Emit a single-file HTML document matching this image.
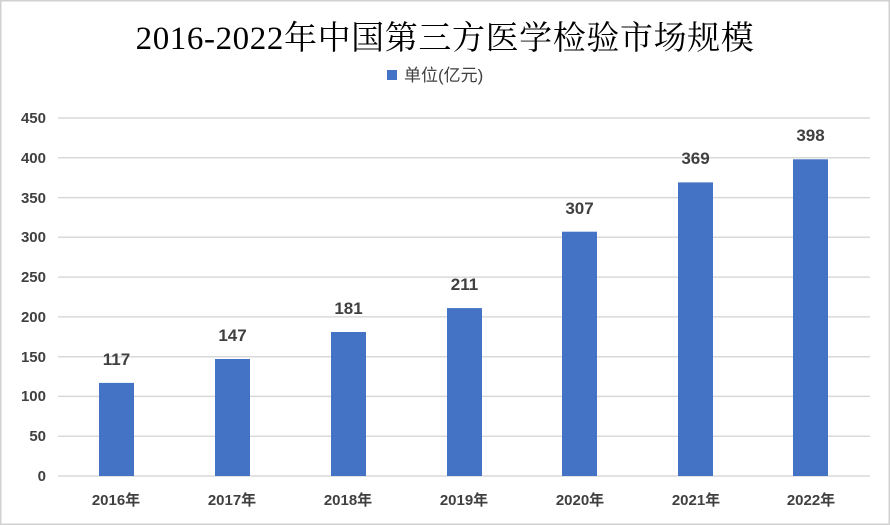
<!DOCTYPE html>
<html><head><meta charset="utf-8"><style>
body{margin:0;background:#fff}
svg{display:block}
</style></head><body>
<svg width="890" height="525" xmlns="http://www.w3.org/2000/svg">
<rect x="0.5" y="0.5" width="889" height="524" fill="#fff" stroke="#d0d0d0" stroke-width="2"/>
<text x="445" y="49" text-anchor="middle" font-family="Liberation Serif, Noto Serif CJK SC, serif" font-size="33" letter-spacing="0.6" fill="#000">2016-2022年中国第三方医学检验市场规模</text>
<rect x="387" y="70" width="10" height="10" fill="#4472C4"/>
<text x="404" y="81" font-family="Liberation Sans, Noto Sans CJK SC, sans-serif" font-size="17" fill="#404040">单位(亿元)</text>
<g stroke="#d9d9d9" stroke-width="1.5">
<line x1="58" x2="870" y1="118" y2="118"/>
<line x1="58" x2="870" y1="157.8" y2="157.8"/>
<line x1="58" x2="870" y1="197.6" y2="197.6"/>
<line x1="58" x2="870" y1="237.3" y2="237.3"/>
<line x1="58" x2="870" y1="277.1" y2="277.1"/>
<line x1="58" x2="870" y1="316.9" y2="316.9"/>
<line x1="58" x2="870" y1="356.7" y2="356.7"/>
<line x1="58" x2="870" y1="396.4" y2="396.4"/>
<line x1="58" x2="870" y1="436.2" y2="436.2"/>
<line x1="58" x2="870" y1="476" y2="476"/>
</g>
<g font-family="Liberation Sans, sans-serif" font-size="15" font-weight="bold" fill="#404040" text-anchor="end">
<text x="46" y="123">450</text><text x="46" y="163">400</text><text x="46" y="203">350</text>
<text x="46" y="242">300</text><text x="46" y="282">250</text><text x="46" y="322">200</text>
<text x="46" y="362">150</text><text x="46" y="401">100</text><text x="46" y="441">50</text>
<text x="46" y="481">0</text>
</g>
<g fill="#4472C4">
<rect x="99" y="382.9" width="35" height="93.1"/>
<rect x="215" y="359.0" width="35" height="117"/>
<rect x="331" y="332.0" width="35" height="144"/>
<rect x="447" y="308.1" width="35" height="167.9"/>
<rect x="562" y="231.7" width="35" height="244.3"/>
<rect x="678" y="182.4" width="35" height="293.6"/>
<rect x="793" y="159.3" width="35" height="316.7"/>
</g>
<g font-family="Liberation Sans, sans-serif" font-size="17" font-weight="bold" fill="#404040" text-anchor="middle">
<text x="116.5" y="365">117</text><text x="232.5" y="341">147</text><text x="348.5" y="314">181</text>
<text x="464.5" y="290">211</text><text x="579.5" y="214">307</text><text x="695.5" y="164">369</text>
<text x="810.5" y="141">398</text>
</g>
<g font-family="Liberation Sans, Noto Sans CJK SC, sans-serif" font-size="15" font-weight="bold" fill="#404040" text-anchor="middle">
<text x="116" y="505">2016年</text><text x="232" y="505">2017年</text><text x="348" y="505">2018年</text>
<text x="464" y="505">2019年</text><text x="580" y="505">2020年</text><text x="696" y="505">2021年</text>
<text x="811" y="505">2022年</text>
</g>
</svg>
</body></html>
